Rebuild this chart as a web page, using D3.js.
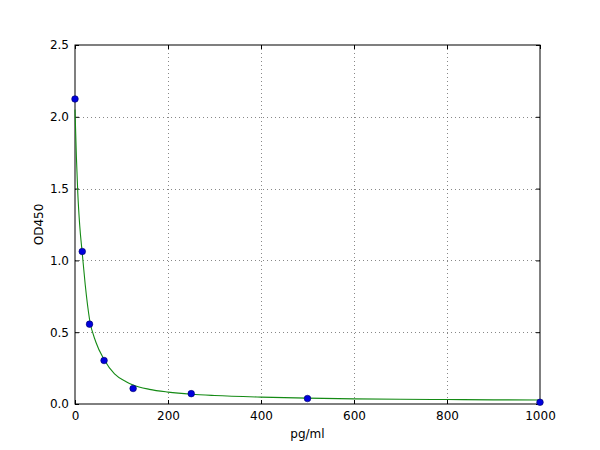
<!DOCTYPE html>
<html lang="en">
<head>
<meta charset="utf-8">
<title>OD450 standard curve</title>
<script src="https://cdn.jsdelivr.net/npm/d3@7"></script>
<style>
  body { margin: 0; background: #fff; }
  text { font-family: "DejaVu Sans", sans-serif; }
</style>
</head>
<body>
<script>
// measured standards
var concs = [0, 15.6, 31.25, 62.5, 125, 250, 500, 1000];
var ods = [2.124, 1.062, 0.556, 0.303, 0.108, 0.072, 0.038, 0.012];

// fitted curve
var fitX = [0, 3, 6, 10, 15.6, 22, 31.25, 45, 62.5, 85, 110, 125, 160, 200, 250, 300, 400, 500, 600, 700, 800, 900, 1000];
var fitY = [2.05, 1.72, 1.47, 1.25, 1.05, 0.83, 0.59, 0.43, 0.31, 0.21, 0.155, 0.132, 0.102, 0.083, 0.068, 0.059, 0.048, 0.041, 0.036, 0.033, 0.031, 0.029, 0.028];

var xTicks = [0, 200, 400, 600, 800, 1000];
var yTicks = [0, 0.5, 1.0, 1.5, 2.0, 2.5];

var w = 600, h = 450;
// plot box (window.top is reserved, so padT etc.)
var padL = 75, padR = 540, padT = 45, padB = 404;
var fontSize = "12px";

var svg = d3.select("body").append("svg")
    .attr("width", w)
    .attr("height", h);

var x = d3.scaleLinear().domain([0, 1000]).range([padL, padR]);
var y = d3.scaleLinear().domain([0, 2.5]).range([padB, padT]);

// grid
svg.append("g").selectAll("line")
    .data(xTicks.slice(1, -1))
    .enter().append("line")
    .attr("x1", function(d) { return Math.round(x(d)) + 0.5; })
    .attr("x2", function(d) { return Math.round(x(d)) + 0.5; })
    .attr("y1", padT).attr("y2", padB)
    .attr("stroke", "#555").attr("stroke-width", 0.7)
    .attr("stroke-dasharray", "1,3");

svg.append("g").selectAll("line")
    .data(yTicks.slice(1, -1))
    .enter().append("line")
    .attr("y1", function(d) { return Math.round(y(d)) + 0.5; })
    .attr("y2", function(d) { return Math.round(y(d)) + 0.5; })
    .attr("x1", padL).attr("x2", padR)
    .attr("stroke", "#555").attr("stroke-width", 0.7)
    .attr("stroke-dasharray", "1,3");

// axes, ticks inward on all four sides
function styleAxis(g) {
  g.select(".domain").remove();
  g.selectAll("text").attr("font-size", fontSize).attr("fill", "#000")
   .attr("font-family", "DejaVu Sans, sans-serif");
  g.selectAll("line").attr("stroke", "#000");
}

svg.append("g")
    .attr("transform", "translate(0," + padB + ")")
    .call(d3.axisBottom(x).tickValues(xTicks).tickFormat(d3.format("d"))
      .tickSizeInner(-4).tickSizeOuter(0).tickPadding(7))
    .call(styleAxis);

svg.append("g")
    .attr("transform", "translate(0," + padT + ")")
    .call(d3.axisTop(x).tickValues(xTicks).tickFormat("")
      .tickSizeInner(-4).tickSizeOuter(0))
    .call(styleAxis);

svg.append("g")
    .attr("transform", "translate(" + padL + ",0)")
    .call(d3.axisLeft(y).tickValues(yTicks).tickFormat(d3.format(".1f"))
      .tickSizeInner(-4).tickSizeOuter(0).tickPadding(6))
    .call(styleAxis);

svg.append("g")
    .attr("transform", "translate(" + padR + ",0)")
    .call(d3.axisRight(y).tickValues(yTicks).tickFormat("")
      .tickSizeInner(-4).tickSizeOuter(0))
    .call(styleAxis);

// frame
svg.append("rect")
    .attr("x", padL).attr("y", padT)
    .attr("width", padR - padL).attr("height", padB - padT)
    .attr("fill", "none").attr("stroke", "#000").attr("stroke-width", 1);

// fit line
var fit = fitX.map(function(d, i) { return [d, fitY[i]]; });
var line = d3.line()
    .x(function(d) { return x(d[0]); })
    .y(function(d) { return y(d[1]); })
    .curve(d3.curveMonotoneX);

svg.append("path")
    .datum(fit)
    .attr("d", line)
    .attr("fill", "none")
    .attr("stroke", "#148a14")
    .attr("stroke-width", 1.1);

// points
svg.append("g").selectAll("circle")
    .data(concs)
    .enter().append("circle")
    .attr("cx", function(d) { return x(d); })
    .attr("cy", function(d, i) { return y(ods[i]); })
    .attr("r", 3.3)
    .attr("fill", "#0000dd")
    .attr("stroke", "#000066")
    .attr("stroke-width", 0.6);

// labels
svg.append("text")
    .text("pg/ml")
    .attr("x", (padL + padR) / 2)
    .attr("y", 438)
    .attr("text-anchor", "middle")
    .attr("font-size", fontSize);

svg.append("text")
    .text("OD450")
    .attr("transform", "translate(43," + ((padT + padB) / 2) + ") rotate(-90)")
    .attr("text-anchor", "middle")
    .attr("font-size", fontSize);
</script>
</body>
</html>
